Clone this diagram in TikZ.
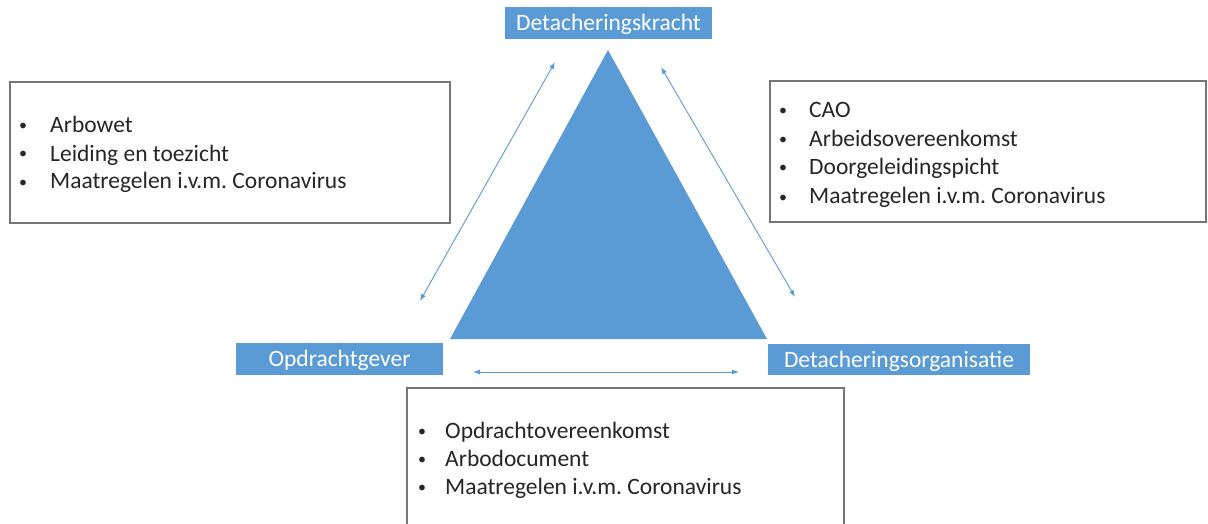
\documentclass[tikz,border=0pt]{standalone}
\usepackage{fontspec}
\setmainfont{Carlito}
\usetikzlibrary{arrows.meta}
\definecolor{officeblue}{HTML}{5B9BD5}
\definecolor{boxgray}{HTML}{767676}
\definecolor{txt}{HTML}{262626}
\frenchspacing
\begin{document}
\begin{tikzpicture}[x=1pt,y=-1pt,
  every node/.style={font=\fontsize{23.5}{28}\selectfont},
  lbl/.style={fill=officeblue, text=white, inner sep=0pt, outer sep=0pt, text height=15pt, text depth=0pt},
  listbox/.style={draw=boxgray, line width=1.4pt, fill=white, inner sep=0pt, outer sep=0pt, anchor=north west},
  item/.style={anchor=base west, inner sep=0pt, text=txt},
  bul/.style={anchor=base, inner sep=0pt, text=txt, font=\fontsize{16}{18}\selectfont},
  link/.style={draw=officeblue, line width=0.9pt, {Latex[length=7pt,width=5pt]}-{Latex[length=7pt,width=5pt]}},
]
\clip (0,0) rectangle (1208,524);
\fill[white] (0,0) rectangle (1208,524);

% central triangle
\fill[officeblue] (608,50) -- (767,339) -- (450,339) -- cycle;

% role labels
\node[lbl, minimum width=207pt, minimum height=32pt] (kracht) at (608.5,23) {Detacheringskracht};
\node[lbl, minimum width=207pt, minimum height=32pt] (gever) at (339.5,359) {Opdrachtgever};
\node[lbl, minimum width=262pt, minimum height=31pt] (org) at (899,359.5) {Detacheringsorganisatie};

% relation arrows
\coordinate (l1) at (555,62);
\coordinate (l2) at (420,301);
\coordinate (r1) at (661,67);
\coordinate (r2) at (795,297);
\coordinate (h1) at (473,372);
\coordinate (h2) at (739,372);
\draw[link] (l1) -- (l2);
\draw[link] (r1) -- (r2);
\draw[link] (h1) -- (h2);

% left box
\node[listbox, minimum width=440pt, minimum height=141pt] (lbox) at (10,82) {};
\node[bul] (lb1) at (23,131) {•};
\node[item] (lt1) at (50,133) {Arbowet};
\node[bul] (lb2) at (23,159) {•};
\node[item] (lt2) at (50,161) {Leiding en toezicht};
\node[bul] (lb3) at (23,187) {•};
\node[item] (lt3) at (50,189) {Maatregelen i.v.m. Coronavirus};

% right box
\node[listbox, minimum width=436pt, minimum height=141pt] (rbox) at (770,81) {};
\node[bul] (rb1) at (783,116) {•};
\node[item] (rt1) at (809,118) {CAO};
\node[bul] (rb2) at (783,145) {•};
\node[item] (rt2) at (809,147) {Arbeidsovereenkomst};
\node[bul] (rb3) at (783,173) {•};
\node[item] (rt3) at (809,175) {Doorgeleidingspicht};
\node[bul] (rb4) at (783,202) {•};
\node[item] (rt4) at (809,204) {Maatregelen i.v.m. Coronavirus};

% bottom box
\node[listbox, minimum width=437pt, minimum height=160pt] (bbox) at (407,388) {};
\node[bul] (bb1) at (422,436) {•};
\node[item] (bt1) at (445,438) {Opdrachtovereenkomst};
\node[bul] (bb2) at (422,464) {•};
\node[item] (bt2) at (445,466) {Arbodocument};
\node[bul] (bb3) at (422,492) {•};
\node[item] (bt3) at (445,494) {Maatregelen i.v.m. Coronavirus};
\end{tikzpicture}
\end{document}
